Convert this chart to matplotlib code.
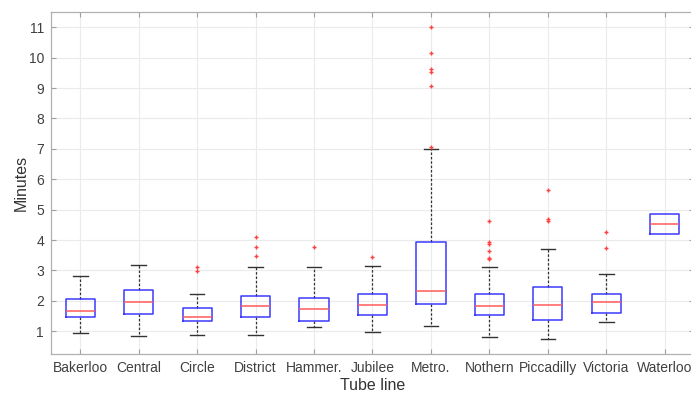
import numpy as np
import matplotlib
matplotlib.use('Agg')
import matplotlib.pyplot as plt

# Box statistics (minutes)
lines = ['Bakerloo', 'Central', 'Circle', 'District', 'Hammer.', 'Jubilee',
         'Metro.', 'Nothern', 'Piccadilly', 'Victoria', 'Waterloo']
whislo = [0.95, 0.83, 0.88, 0.88, 1.13, 0.96, 1.17, 0.80, 0.76, 1.30, 4.19]
q1 = [1.47, 1.57, 1.33, 1.48, 1.35, 1.52, 1.90, 1.52, 1.36, 1.59, 4.19]
med = [1.65, 1.95, 1.48, 1.83, 1.73, 1.86, 2.33, 1.82, 1.86, 1.95, 4.52]
q3 = [2.05, 2.35, 1.77, 2.17, 2.08, 2.24, 3.94, 2.23, 2.46, 2.23, 4.85]
whishi = [2.83, 3.18, 2.23, 3.10, 3.10, 3.14, 7.00, 3.10, 3.70, 2.88, 4.85]
fliers = [
    [],
    [],
    [2.98, 3.10],
    [3.48, 3.78, 4.10],
    [3.78],
    [3.44],
    [7.07, 9.05, 9.52, 9.64, 10.15, 11.0],
    [3.38, 3.42, 3.64, 3.87, 3.95, 4.61],
    [4.63, 4.68, 5.64],
    [3.75, 4.25],
    [],
]
yticks = np.arange(1, 12)

plt.rcParams['font.family'] = ['Liberation Sans', 'DejaVu Sans']

fig = plt.figure(figsize=(6.91, 3.94), dpi=100)
ax = fig.add_axes([0.0738, 0.1015, 0.9305, 0.868])

stats = []
for i in range(len(lines)):
    stats.append(dict(label=lines[i], whislo=whislo[i], q1=q1[i], med=med[i],
                      q3=q3[i], whishi=whishi[i], fliers=fliers[i]))

box_col = '#3a3aff'
med_col = '#ff5a5a'
res = ax.bxp(stats, positions=np.arange(1, len(lines) + 1), widths=0.5,
             showfliers=True,
             boxprops=dict(color=box_col, linewidth=1.1),
             medianprops=dict(color=med_col, linewidth=1.1),
             whiskerprops=dict(color='#333333', linewidth=0.9, linestyle=(0, (2, 1.5))),
             capprops=dict(color='#333333', linewidth=1.0),
             capwidths=0.25,
             flierprops=dict(marker='+', markersize=3.5, markeredgecolor='#ff4040',
                             markeredgewidth=1.0, linestyle='none'))

# caps with zero-length whiskers are hidden (as in MATLAB)
for i in range(len(lines)):
    if whislo[i] == q1[i]:
        res['caps'][2 * i].set_visible(False)
    if whishi[i] == q3[i]:
        res['caps'][2 * i + 1].set_visible(False)
for b in res['boxes']:
    b.set_zorder(3)
for m in res['medians']:
    m.set_zorder(4)

ax.set_xlim(0.5, 11.5)
ax.set_ylim(0.25, 11.5)
ax.set_yticks(yticks)
ax.set_xticks(np.arange(1, len(lines) + 1))
ax.set_xticklabels(lines)

ax.grid(True, color='#ebebeb', linewidth=0.8)
ax.set_axisbelow(True)
for s in ax.spines.values():
    s.set_color('#b0b0b0')
    s.set_linewidth(0.9)
ax.tick_params(axis='both', direction='in', top=True, right=True, length=3.5,
               color='#a0a0a0', labelcolor='#404040', labelsize=10, pad=5)

ax.set_xlabel('Tube line', fontsize=11.5, color='#333333', labelpad=2)
ax.set_ylabel('Minutes', fontsize=11.5, color='#333333', labelpad=0)

fig.savefig('out.png', dpi=100)
